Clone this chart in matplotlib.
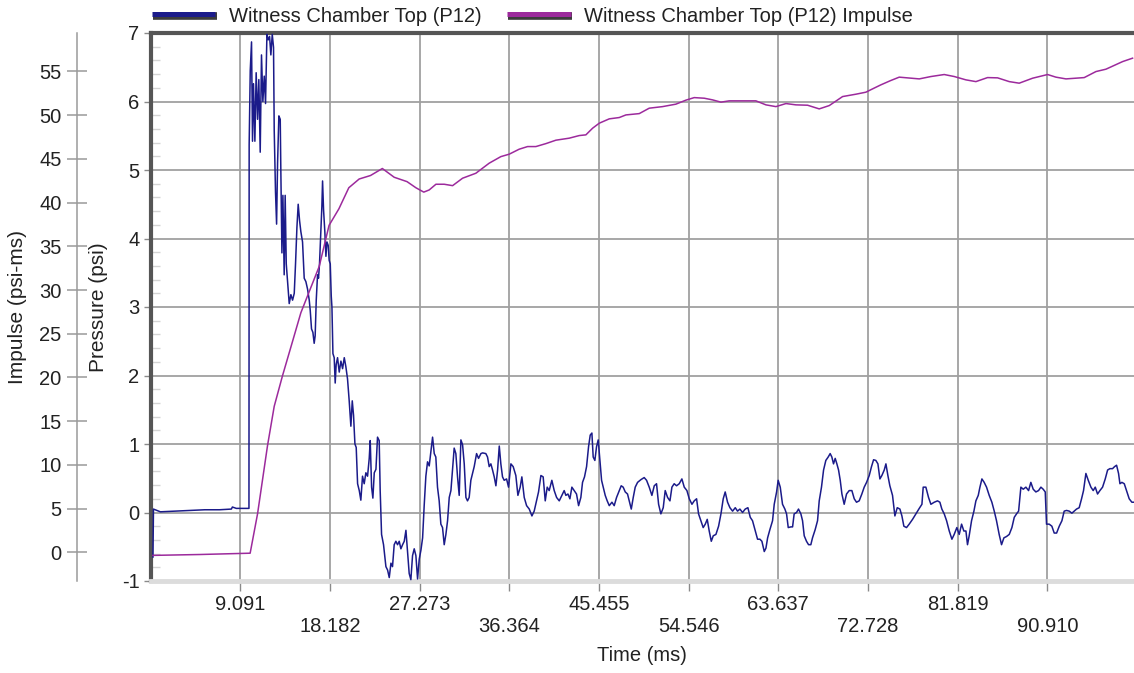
import matplotlib
matplotlib.use('Agg')
import matplotlib.pyplot as plt
import matplotlib.patheffects as pe
from matplotlib.lines import Line2D
from matplotlib.ticker import MultipleLocator

plt.rcParams['font.family'] = ['Liberation Sans', 'DejaVu Sans']
plt.rcParams['axes.unicode_minus'] = False

### pressure trace (ms, psi)
# step and main peak
t_peak = [0.25, 0.3, 1.0, 2.5, 4.0, 5.5, 7.0, 8.2, 8.3, 8.7,
          9.98, 10.0, 10.11, 10.24, 10.34, 10.44, 10.58, 10.71, 10.85, 10.98,
          11.12, 11.25, 11.39, 11.53, 11.66, 11.80, 11.93, 12.07, 12.20, 12.34,
          12.47, 12.54, 12.67, 12.78, 12.88, 13.01, 13.15, 13.21, 13.32, 13.42,
          13.55, 13.65, 13.76, 13.89, 14.06, 14.23, 14.40, 14.57, 14.70, 14.84,
          14.97, 15.11, 15.24, 15.41, 15.58, 15.75, 15.92, 16.09, 16.19, 16.32,
          16.46, 16.59, 16.69, 16.80, 16.93, 17.03, 17.13, 17.27, 17.37, 17.44,
          17.54, 17.67, 17.78, 17.88, 18.01, 18.11, 18.22, 18.32, 18.39, 18.49,
          18.62, 18.72, 18.82, 18.96, 19.13, 19.30, 19.47, 19.64, 19.80, 19.97,
          20.14, 20.31, 20.45, 20.58, 20.72, 20.85, 20.99, 21.16, 21.32, 21.49,
          21.66, 21.83, 22.00, 22.17, 22.27, 22.41, 22.54, 22.68, 22.85, 23.01,
          23.18, 23.28, 23.42, 23.62, 23.86, 24.03, 24.20, 24.37, 24.53, 24.70,
          24.87, 25.04, 25.21, 25.38, 25.55, 25.72, 25.89, 26.06, 26.22, 26.39,
          26.56, 26.73, 26.90, 27.07, 27.24, 27.41, 27.58, 27.74, 27.91, 28.08,
          28.25, 28.42, 28.59]
p_peak = [-0.65, 0.05, 0.01, 0.02, 0.03, 0.04, 0.04, 0.05, 0.08, 0.06,
          0.06, 5.37, 6.45, 6.87, 5.42, 6.26, 5.42, 6.42, 5.74, 6.32,
          5.26, 6.68, 6.00, 6.37, 5.97, 6.98, 6.90, 6.95, 6.68, 6.98,
          6.79, 5.58, 4.68, 4.21, 5.10, 5.79, 5.74, 5.00, 3.79, 4.63,
          3.47, 4.63, 3.63, 3.37, 3.05, 3.18, 3.10, 3.20, 3.63, 4.16,
          4.50, 4.26, 4.10, 3.95, 3.42, 3.37, 3.26, 3.10, 2.95, 2.68,
          2.63, 2.47, 2.58, 3.10, 3.47, 3.42, 3.63, 4.10, 4.47, 4.84,
          4.42, 4.10, 3.74, 3.95, 3.90, 3.68, 3.63, 3.16, 3.00, 2.32,
          2.26, 1.89, 2.16, 2.26, 2.05, 2.21, 2.10, 2.26, 2.13, 1.95,
          1.63, 1.26, 1.63, 1.42, 1.00, 0.95, 0.42, 0.32, 0.18, 0.53,
          0.42, 0.58, 0.53, 0.79, 1.05, 0.37, 0.21, 0.58, 0.63, 1.10,
          1.05, 0.32, -0.32, -0.47, -0.79, -0.84, -0.95, -0.74, -0.79, -0.47,
          -0.42, -0.47, -0.42, -0.53, -0.47, -0.42, -0.26, -0.58, -0.89, -0.98,
          -0.63, -0.53, -0.63, -0.97, -0.68, -0.55, -0.37, 0.10, 0.53, 0.74,
          0.68, 0.89, 1.10]

# ringing, 28.7 - 63.5 ms
t_mid = [28.76, 28.92, 29.09, 29.26, 29.43, 29.60, 29.77, 29.94, 30.11, 30.28,
         30.45, 30.61, 30.78, 30.95, 31.12, 31.29, 31.46, 31.63, 31.80, 31.97,
         32.13, 32.30, 32.47, 32.64, 32.81, 33.05, 33.25, 33.49, 33.66, 33.99,
         34.16, 34.33, 34.50, 34.67, 34.84, 35.01, 35.18, 35.35, 35.51, 35.68,
         35.85, 36.09, 36.29, 36.53, 36.76, 37.03, 37.24, 37.47, 37.64, 37.88,
         38.12, 38.39, 38.66, 38.89, 39.13, 39.33, 39.57, 39.80, 40.01, 40.21,
         40.41, 40.68, 40.92, 41.16, 41.43, 41.70, 41.93, 42.10, 42.31, 42.51,
         42.71, 42.95, 43.18, 43.39, 43.62, 43.79, 43.99, 44.20, 44.40, 44.57,
         44.74, 44.87, 45.04, 45.21, 45.38, 45.55, 45.72, 45.89, 46.09, 46.29,
         46.50, 46.77, 47.00, 47.24, 47.51, 47.71, 47.91, 48.12, 48.35, 48.52,
         48.73, 48.93, 49.13, 49.37, 49.71, 50.04, 50.28, 50.55, 50.82, 51.06,
         51.29, 51.50, 51.73, 51.97, 52.17, 52.41, 52.65, 52.85, 53.08, 53.32,
         53.59, 53.86, 54.10, 54.37, 54.61, 54.88, 55.11, 55.35, 55.55, 55.79,
         56.02, 56.23, 56.43, 56.63, 56.84, 57.04, 57.31, 57.58, 57.82, 58.05,
         58.25, 58.49, 58.73, 59.00, 59.27, 59.50, 59.74, 60.01, 60.28, 60.55,
         60.79, 61.02, 61.30, 61.53, 61.77, 61.97, 62.21, 62.38, 62.55, 62.78,
         63.05, 63.22, 63.46]
p_mid = [0.86, 0.81, 0.37, 0.17, -0.17, -0.22, -0.47, -0.32, -0.12, 0.22,
         0.32, 0.62, 0.94, 0.86, 0.52, 0.25, 1.06, 0.99, 0.71, 0.22,
         0.17, 0.22, 0.47, 0.57, 0.67, 0.86, 0.79, 0.86, 0.87, 0.86,
         0.81, 0.67, 0.71, 0.62, 0.52, 0.39, 0.62, 0.97, 0.71, 0.52,
         0.47, 0.49, 0.37, 0.71, 0.67, 0.54, 0.25, 0.37, 0.52, 0.22,
         0.10, 0.05, -0.05, 0.02, 0.17, 0.30, 0.54, 0.52, 0.17, 0.37,
         0.32, 0.47, 0.32, 0.22, 0.17, 0.25, 0.32, 0.25, 0.27, 0.20,
         0.37, 0.32, 0.27, 0.10, 0.22, 0.44, 0.52, 0.67, 0.96, 1.13,
         1.16, 0.81, 0.76, 0.96, 1.06, 0.76, 0.47, 0.37, 0.25, 0.17,
         0.10, 0.15, 0.10, 0.22, 0.32, 0.39, 0.37, 0.30, 0.27, 0.17,
         0.05, 0.22, 0.37, 0.44, 0.48, 0.51, 0.47, 0.37, 0.25, 0.39,
         0.42, 0.12, -0.02, 0.07, 0.32, 0.22, 0.17, 0.37, 0.42, 0.39,
         0.42, 0.49, 0.37, 0.32, 0.20, 0.12, 0.17, 0.20, -0.02, -0.12,
         -0.22, -0.17, -0.10, -0.27, -0.42, -0.34, -0.32, -0.20, -0.02, 0.20,
         0.30, 0.15, 0.07, 0.02, 0.07, 0.02, 0.05, 0.00, 0.05, 0.07,
         -0.07, -0.12, -0.27, -0.39, -0.39, -0.42, -0.57, -0.52, -0.37, -0.25,
         -0.12, 0.12, 0.30]

# tail, 63.6 - 99.6 ms
t_tail = [63.62, 63.83, 64.06, 64.30, 64.47, 64.64, 64.91, 65.08, 65.24, 65.48,
          65.68, 65.92, 66.09, 66.26, 66.49, 66.70, 66.93, 67.10, 67.37, 67.61,
          67.78, 68.01, 68.22, 68.45, 68.69, 68.89, 69.06, 69.23, 69.40, 69.57,
          69.74, 69.91, 70.08, 70.31, 70.55, 70.82, 71.09, 71.33, 71.56, 71.83,
          72.10, 72.34, 72.58, 72.85, 73.08, 73.29, 73.52, 73.73, 73.93, 74.13,
          74.37, 74.54, 74.74, 74.94, 75.21, 75.45, 75.69, 75.96, 76.16, 76.36,
          76.63, 76.90, 77.24, 77.58, 77.92, 78.19, 78.32, 78.59, 78.86, 79.10,
          79.44, 79.77, 80.01, 80.21, 80.45, 80.69, 80.96, 81.23, 81.46, 81.73,
          81.97, 82.21, 82.44, 82.65, 82.81, 82.98, 83.22, 83.46, 83.66, 83.90,
          84.07, 84.27, 84.50, 84.74, 85.01, 85.28, 85.52, 85.75, 86.02, 86.26,
          86.50, 86.77, 87.04, 87.31, 87.55, 87.78, 87.99, 88.22, 88.46, 88.73,
          89.00, 89.23, 89.47, 89.74, 90.01, 90.25, 90.48, 90.69, 90.82, 91.09,
          91.36, 91.60, 91.84, 92.11, 92.38, 92.61, 92.85, 93.12, 93.39, 93.63,
          93.86, 94.13, 94.37, 94.57, 94.81, 95.05, 95.32, 95.55, 95.76, 95.99,
          96.23, 96.50, 96.77, 97.01, 97.24, 97.51, 97.72, 97.92, 98.12, 98.26,
          98.46, 98.70, 98.93, 99.20, 99.47, 99.61]
p_tail = [0.47, 0.37, 0.12, 0.05, -0.02, -0.22, -0.21, -0.21, -0.02, 0.00,
          0.05, -0.02, -0.12, -0.34, -0.42, -0.47, -0.47, -0.37, -0.25, -0.12,
          0.17, 0.37, 0.62, 0.76, 0.81, 0.86, 0.81, 0.71, 0.79, 0.71,
          0.62, 0.47, 0.27, 0.12, 0.27, 0.32, 0.32, 0.20, 0.15, 0.17,
          0.27, 0.37, 0.44, 0.54, 0.67, 0.77, 0.76, 0.71, 0.49, 0.54,
          0.62, 0.71, 0.54, 0.39, 0.25, -0.05, 0.07, 0.05, -0.05, -0.20,
          -0.22, -0.17, -0.10, -0.02, 0.06, 0.12, 0.37, 0.37, 0.22, 0.12,
          0.15, 0.17, 0.15, 0.05, -0.02, -0.12, -0.27, -0.39, -0.32, -0.22,
          -0.32, -0.17, -0.27, -0.27, -0.47, -0.34, -0.12, 0.02, 0.17, 0.25,
          0.37, 0.49, 0.44, 0.37, 0.25, 0.15, 0.02, -0.12, -0.32, -0.47,
          -0.37, -0.35, -0.32, -0.22, -0.07, -0.02, 0.02, 0.37, 0.34, 0.37,
          0.32, 0.44, 0.34, 0.30, 0.32, 0.37, 0.34, 0.30, -0.17, -0.17,
          -0.20, -0.30, -0.30, -0.20, -0.12, 0.02, 0.03, 0.02, -0.01, 0.02,
          0.05, 0.07, 0.20, 0.32, 0.57, 0.47, 0.37, 0.32, 0.37, 0.27,
          0.32, 0.37, 0.49, 0.62, 0.64, 0.64, 0.67, 0.69, 0.57, 0.42,
          0.44, 0.42, 0.32, 0.20, 0.15, 0.15]

### impulse (ms, psi-ms)
i_time = [0.25, 5.0, 10.1, 10.85, 11.86, 12.54, 13.38, 14.39, 15.24, 16.08,
          17.1, 18.1, 19.1, 20.1, 21.15, 22.3, 23.5, 24.7, 26.0, 26.9,
          27.7, 28.25, 28.93, 29.77, 30.62, 31.63, 32.98, 34.33, 35.51, 36.36,
          37.37, 38.22, 39.06, 40.08, 41.09, 42.44, 43.46, 44.13, 44.81, 45.48,
          46.5, 47.51, 48.19, 49.54, 50.55, 51.9, 53.25, 54.27, 55.11, 56.13,
          56.97, 57.82, 58.66, 60.35, 61.36, 62.38, 63.39, 64.41, 65.42, 66.6,
          67.78, 68.8, 70.15, 71.5, 72.51, 73.19, 74.03, 75.0, 75.89, 77.92,
          79.1, 80.45, 81.47, 82.65, 83.66, 84.84, 85.86, 87.04, 88.05, 89.41,
          90.93, 91.77, 92.79, 94.64, 95.83, 96.84, 98.53, 99.54]
i_val = [-0.35, -0.25, -0.1, 4.4, 12.2, 16.7, 20.2, 24.1, 27.4, 29.8,
         32.7, 37.4, 39.3, 41.7, 42.7, 43.1, 43.9, 42.9, 42.4, 41.7,
         41.2, 41.45, 42.1, 42.1, 41.94, 42.79, 43.36, 44.51, 45.26, 45.54,
         46.11, 46.41, 46.41, 46.75, 47.14, 47.37, 47.67, 47.75, 48.51, 49.08,
         49.58, 49.73, 50.03, 50.18, 50.8, 50.98, 51.26, 51.72, 52.01, 51.94,
         51.75, 51.49, 51.64, 51.64, 51.64, 51.18, 50.98, 51.33, 51.18, 51.14,
         50.72, 51.1, 52.13, 52.4, 52.63, 53.01, 53.47, 53.95, 54.35, 54.15,
         54.42, 54.65, 54.42, 54.04, 53.84, 54.30, 54.27, 53.84, 53.66, 54.23,
         54.65, 54.35, 54.15, 54.30, 54.99, 55.26, 56.13, 56.52]

x_ticks = [100 / 11 * k for k in range(1, 11)]
x_labels = ['9.091', '18.182', '27.273', '36.364', '45.455',
            '54.546', '63.637', '72.728', '81.819', '90.910']

p_time = t_peak + t_mid + t_tail
p_val = p_peak + p_mid + p_tail

blue = '#1b1b8a'
purple = '#9c2a9c'
txt = '#222222'

W, H = 1134, 673
L, R, T, B = 150.5, 1134, 33, 581
fig = plt.figure(figsize=(W / 100, H / 100), dpi=100)
ax = fig.add_axes([L / W, 1 - B / H, (R - L) / W, (B - T) / H])
ax2 = ax.twinx()

ax.plot(p_time, p_val, color=blue, lw=1.1, zorder=3)
ax2.plot(i_time, i_val, color=purple, lw=1.1)

ax.set_xlim(0, (R - L) / 9.866)
ax.set_ylim(-1, 7)
ax2.set_ylim(-3.28, 59.4)

# x axis, labels staggered on two rows
ax.set_xticks(x_ticks, [s if k % 2 == 0 else '\n' + s for k, s in enumerate(x_labels)])
ax.tick_params(axis='x', direction='out', length=7, width=1, color='#8a8a8a',
               pad=3, labelsize=14.5, labelcolor=txt)
ax.set_xlabel('Time (ms)', fontsize=14.5, color=txt)
ax.xaxis.set_label_coords(0.5, (B - 646) / (B - T))

# pressure axis
ax.yaxis.set_major_locator(MultipleLocator(1))
ax.yaxis.set_minor_locator(MultipleLocator(0.2))
ax.tick_params(axis='y', which='major', direction='out', length=5, width=1,
               color='#8a8a8a', pad=3, labelsize=14.5, labelcolor=txt)
ax.tick_params(axis='y', which='minor', direction='in', length=6.5, width=1,
               color='#d4d4d4')
ax.set_ylabel('Pressure (psi)', fontsize=15, color=txt)
ax.yaxis.set_label_coords((108 - L) / (R - L), 0.5)

ax.grid(True, which='major', color='#a0a0a0', lw=1.3)
ax.set_axisbelow(True)
ax.spines['top'].set_color('#555555')
ax.spines['top'].set_linewidth(3)
ax.spines['left'].set_color('#555555')
ax.spines['left'].set_linewidth(3)
ax.spines['bottom'].set_color('#dcdcdc')
ax.spines['bottom'].set_linewidth(3.5)
ax.spines['right'].set_visible(False)

# impulse axis, pushed out to the left
ax2.yaxis.tick_left()
ax2.yaxis.set_label_position('left')
for s in ['top', 'right', 'bottom']:
    ax2.spines[s].set_visible(False)
ax2.spines['left'].set_position(('axes', (77 - L) / (R - L)))
ax2.spines['left'].set_color('#9a9a9a')
ax2.spines['left'].set_linewidth(1.1)
ax2.set_yticks(list(range(0, 60, 5)))
ax2.tick_params(axis='y', direction='inout', length=14.4, width=1.1,
                color='#9a9a9a', pad=4, labelsize=14.5, labelcolor=txt)
ax2.set_ylabel('Impulse (psi-ms)', fontsize=15, color=txt)
ax2.yaxis.set_label_coords((27 - L) / (R - L), 0.5)

# legend above the plot
shadow = [pe.Stroke(linewidth=5.5, foreground='#3c3c3c', offset=(0.8, -0.8)), pe.Normal()]
h1 = Line2D([], [], color=blue, lw=3.6, solid_capstyle='butt', path_effects=shadow)
h2 = Line2D([], [], color=purple, lw=3.6, solid_capstyle='butt', path_effects=shadow)
fig.legend([h1, h2], ['Witness Chamber Top (P12)', 'Witness Chamber Top (P12) Impulse'],
           loc='center left', bbox_to_anchor=(152 / W, 1 - 16 / H), ncol=2,
           frameon=False, borderpad=0, borderaxespad=0, fontsize=14.5,
           handlelength=3.15, handletextpad=0.65, columnspacing=1.3,
           labelcolor=txt)

fig.savefig('out.png', dpi=100)
